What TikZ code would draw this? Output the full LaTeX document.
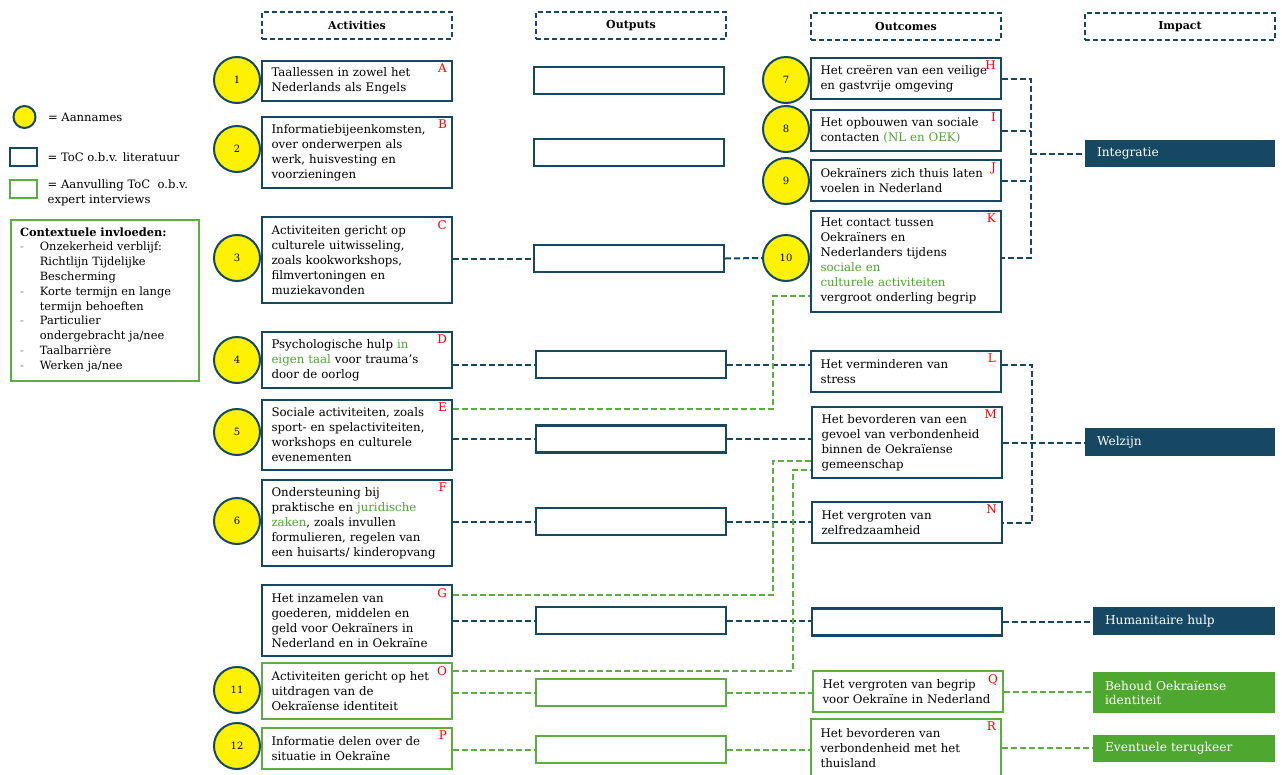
\documentclass[tikz,border=0pt]{standalone}
\usepackage{fontspec}
\setmainfont{DejaVu Serif}
\usetikzlibrary{positioning,calc}

\definecolor{tocblue}{HTML}{164863}
\definecolor{tocgreen}{HTML}{5BAE3F}
\definecolor{txtgreen}{HTML}{4EA72E}
\newcommand{\grn}[1]{\textcolor{txtgreen}{#1}}
\newcommand{\tagit}[2]{\node[tag] (#1-tag) at ($(#1.north east)+(-6pt,-4pt)$) {#2};}

\tikzset{
    box/.style={draw=tocblue, line width=2.2pt, fill=white, text width=171pt, inner xsep=9.5pt, inner ysep=0pt,
                align=left, font=\fontsize{11.8}{15}\selectfont},
    gbox/.style={box, draw=tocgreen},
    outbox/.style={draw=tocblue, line width=2.2pt, fill=white, minimum width=190pt, minimum height=27pt},
    goutbox/.style={outbox, draw=tocgreen},
    assum/.style={circle, draw=tocblue, line width=2pt, fill=yellow, minimum size=46pt, inner sep=0pt,
                  font=\fontsize{10}{12}\selectfont},
    head/.style={draw=tocblue, line width=1.8pt, dash pattern=on 5pt off 3pt, minimum width=190pt,
                 minimum height=27pt, font=\bfseries\fontsize{11}{13}\selectfont},
    imp/.style={fill=tocblue, text=white, text width=166pt, inner xsep=12pt, inner ysep=0pt, align=left,
                font=\fontsize{12.2}{14}\selectfont},
    gimp/.style={imp, fill=txtgreen},
    blink/.style={draw=tocblue, line width=2pt, dash pattern=on 6pt off 3pt},
    glink/.style={draw=tocgreen, line width=2pt, dash pattern=on 6pt off 3pt},
    tag/.style={text=red, inner sep=0pt, anchor=north east, font=\fontsize{12}{14}\selectfont},
    legbox/.style={draw=tocblue, line width=2.2pt, minimum width=27pt, minimum height=18pt, inner sep=0pt},
    lgtxt/.style={align=left, font=\fontsize{11.6}{15}\selectfont},
}

\begin{document}
\begin{tikzpicture}[x=1pt, y=-1pt, node distance=6pt]

    \fill[white] (0,0) rectangle (1282,774);
    \useasboundingbox (0,0) rectangle (1282,774);

    % column heads
    \node[head] (hAct) at (357,25.5)  {Activities};
    \node[head] (hOut) at (631,25.5)  {Outputs};
    \node[head] (hOc)  at (906,26.5)  {Outcomes};
    \node[head] (hImp) at (1180,26.5) {Impact};

    % legend
    \node[assum, minimum size=22pt]  (lgc)  at (24.5,117)         {};
    \node[lgtxt]                     (lgct) [right=8pt of lgc]    {= Aannames};
    \node[legbox]                    (lgb)  at (23.5,157)         {};
    \node[lgtxt]                     (lgbt) [right=6pt of lgb]    {= ToC o.b.v. literatuur};
    \node[legbox, draw=tocgreen]     (lgg)  at (23.5,189)         {};
    \node[lgtxt]                     (lggt) [right=6pt of lgg, yshift=-3.5pt] {= Aanvulling ToC\ \ o.b.v.\\expert interviews};

    \node[draw=tocgreen, line width=2pt, minimum width=188pt, minimum height=161pt, text width=170pt,
          inner xsep=9pt, align=left, font=\fontsize{11.4}{14.8}\selectfont] (ctx) at (105,300.5)
        {\textbf{Contextuele invloeden:}\\
         \begin{tabular}[t]{@{}l@{\hspace{16pt}}l@{}}
         \textcolor{gray}{-} & Onzekerheid verblijf:\\
                             & Richtlijn Tijdelijke\\
                             & Bescherming\\
         \textcolor{gray}{-} & Korte termijn en lange\\
                             & termijn behoeften\\
         \textcolor{gray}{-} & Particulier\\
                             & ondergebracht ja/nee\\
         \textcolor{gray}{-} & Taalbarrière\\
         \textcolor{gray}{-} & Werken ja/nee
         \end{tabular}};

    % activities
    \node[box,  minimum height=40pt] (A) at (357,81)    {Taallessen in zowel het\\Nederlands als Engels};
    \node[box,  minimum height=71pt] (B) at (357,152.5) {Informatiebijeenkomsten,\\over onderwerpen als\\werk, huisvesting en\\voorzieningen};
    \node[box,  minimum height=86pt] (C) at (357,260)   {Activiteiten gericht op\\culturele uitwisseling,\\zoals kookworkshops,\\filmvertoningen en\\muziekavonden};
    \node[box,  minimum height=56pt] (D) at (357,360)   {Psychologische hulp \grn{in}\\\grn{eigen taal} voor trauma’s\\door de oorlog};
    \node[box,  minimum height=70pt] (E) at (357,435)   {Sociale activiteiten, zoals\\sport- en spelactiviteiten,\\workshops en culturele\\evenementen};
    \node[box,  minimum height=86pt] (F) at (357,523)   {Ondersteuning bij\\praktische en \grn{juridische}\\\grn{zaken}, zoals invullen\\formulieren, regelen van\\een huisarts/ kinderopvang};
    \node[box,  minimum height=71pt] (G) at (357,620.5) {Het inzamelen van\\goederen, middelen en\\geld voor Oekraïners in\\Nederland en in Oekraïne};
    \node[gbox, minimum height=56pt] (O) at (357,691)   {Activiteiten gericht op het\\uitdragen van de\\Oekraïense identiteit};
    \node[gbox, minimum height=41pt] (P) at (357,748.5) {Informatie delen over de\\situatie in Oekraïne};

    % outputs
    \node[outbox]  (o1) at (629,80.5)  {};
    \node[outbox]  (o2) at (629,152.5) {};
    \node[outbox]  (o3) at (629,258.5) {};
    \node[outbox]  (o4) at (631,364.5) {};
    \node[outbox]  (o5) at (631,439)   {};
    \node[outbox]  (o6) at (631,521.5) {};
    \node[outbox]  (o7) at (631,620.5) {};
    \node[goutbox] (o8) at (631,692.5) {};
    \node[goutbox] (o9) at (631,749.5) {};

    % outcomes
    \node[box,  minimum height=41pt]  (H)  at (906,78.5)  {Het creëren van een veilige\\en gastvrije omgeving};
    \node[box,  minimum height=41pt]  (I)  at (906,130.5) {Het opbouwen van sociale\\contacten \grn{(NL en OEK)}};
    \node[box,  minimum height=41pt]  (J)  at (906,180.5) {Oekraïners zich thuis laten\\voelen in Nederland};
    \node[box,  minimum height=101pt] (K)  at (906,261.5) {Het contact tussen\\Oekraïners en\\Nederlanders tijdens\\\grn{sociale en}\\\grn{culturele activiteiten}\\vergroot onderling begrip};
    \node[box,  minimum height=41pt]  (L)  at (906,371.5) {Het verminderen van\\stress};
    \node[box,  minimum height=71pt]  (M)  at (907,442.5) {Het bevorderen van een\\gevoel van verbondenheid\\binnen de Oekraïense\\gemeenschap};
    \node[box,  minimum height=41pt]  (N)  at (907,522.5) {Het vergroten van\\zelfredzaamheid};
    \node[outbox]                     (hx) at (907,622)   {};
    \node[gbox, minimum height=41pt]  (Q)  at (908,691.5) {Het vergroten van begrip\\voor Oekraïne in Nederland};
    \node[gbox, minimum height=58pt]  (R)  at (906,748)   {Het bevorderen van\\verbondenheid met het\\thuisland};

    % impact
    \node[imp,  minimum height=27pt]                   (integ)  at (1180,153.5) {Integratie};
    \node[imp,  minimum height=28pt]                   (welz)   at (1180,442)   {Welzijn};
    \node[imp,  minimum height=28pt, text width=158pt] (human)  at (1184,621)   {Humanitaire hulp};
    \node[gimp, minimum height=41pt, text width=158pt] (behoud) at (1184,692.5) {Behoud Oekraïense\\identiteit};
    \node[gimp, minimum height=27pt, text width=158pt] (terug)  at (1184,748.5) {Eventuele terugkeer};

    % letters
    \tagit{A}{A} \tagit{B}{B} \tagit{C}{C} \tagit{D}{D} \tagit{E}{E} \tagit{F}{F}
    \tagit{G}{G} \tagit{O}{O} \tagit{P}{P} \tagit{H}{H} \tagit{I}{I} \tagit{J}{J}
    \tagit{K}{K} \tagit{L}{L} \tagit{M}{M} \tagit{N}{N} \tagit{Q}{Q} \tagit{R}{R}

    % assumptions
    \foreach \n/\y in {1/80, 2/149, 3/258, 4/360, 5/432, 6/521, 11/690, 12/746}
        \node[assum] (c\n) at (237,\y) {\n};
    \foreach \n/\y in {7/80, 8/129, 9/181, 10/258}
        \node[assum] (c\n) at (786,\y) {\n};

    % activities -> outputs -> outcomes
    \draw[blink] (C.east |- o3) -- (o3.west);
    \draw[blink] (o3.east)      -- (c10.west);
    \draw[blink] (D.east |- o4) -- (o4.west);
    \draw[blink] (o4.east)      -- (o4.east -| L.west);
    \draw[blink] (E.east |- o5) -- (o5.west);
    \draw[blink] (o5.east)      -- (o5.east -| M.west);
    \draw[blink] (F.east |- o6) -- (o6.west);
    \draw[blink] (o6.east)      -- (o6.east -| N.west);
    \draw[blink] (G.east |- o7) -- (o7.west);
    \draw[blink] (o7.east)      -- (o7.east -| hx.west);
    \draw[glink] (O.east |- o8) -- (o8.west);
    \draw[glink] (o8.east)      -- (o8.east -| Q.west);
    \draw[glink] (P.east |- o9) -- (o9.west);
    \draw[glink] (o9.east)      -- (o9.east -| R.west);

    % green cross links
    \coordinate (eK) at (773,409);
    \coordinate (kE) at (773,296);
    \coordinate (gM) at (773,595);
    \coordinate (mG) at (773,461);
    \coordinate (oM) at (793,671);
    \coordinate (mO) at (793,470);
    \draw[glink] (eK -| E.east) -- (eK) -- (kE) -- (kE -| K.west);
    \draw[glink] (gM -| G.east) -- (gM) -- (mG) -- (mG -| M.west);
    \draw[glink] (oM -| O.east) -- (oM) -- (mO) -- (mO -| M.west);

    % outcomes -> impact
    \coordinate (ibus) at (1031,153.5);
    \draw[blink] (H.east) -- (H.east -| ibus) -- (c10 -| ibus) -- (c10 -| K.east);
    \draw[blink] (I.east) -- (I.east -| ibus);
    \draw[blink] (J.east) -- (J.east -| ibus);
    \draw[blink] (ibus)   -- (integ.west);

    \coordinate (wbus) at (1032,442);
    \draw[blink] (o4 -| L.east) -- (o4 -| wbus) -- (N.east -| wbus) -- (N.east);
    \draw[blink] (M.east)  -- (M.east -| welz.west);
    \draw[blink] (hx.east) -- (hx.east -| human.west);
    \draw[glink] (Q.east)  -- (Q.east -| behoud.west);
    \draw[glink] (R.east)  -- (R.east -| terug.west);

\end{tikzpicture}
\end{document}
